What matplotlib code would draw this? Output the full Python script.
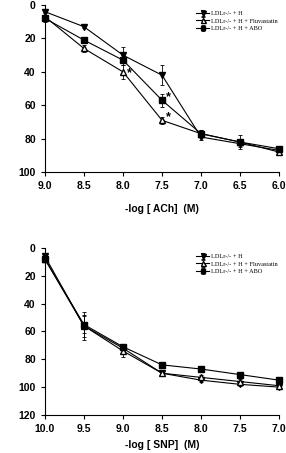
import matplotlib
matplotlib.use("Agg")
import matplotlib.pyplot as plt

# ACh panel
ach_x = [9.0, 8.5, 8.0, 7.5, 7.0, 6.5, 6.0]
ach_h = [4, 13, 30, 42, 79, 83, 87]
ach_h_err = [1, 1, 5, 6, 2, 2, 1]
ach_fluva = [7, 26, 40, 69, 77, 82, 88]
ach_fluva_err = [1, 2, 4, 2, 2, 2, 1]
ach_abo = [8, 21, 33, 57, 77, 82, 86]
ach_abo_err = [2, 1, 3, 4, 2, 4, 1]

# SNP panel
snp_x = [10.0, 9.5, 9.0, 8.5, 8.0, 7.5, 7.0]
snp_h = [6, 56, 72, 90, 95, 98, 100]
snp_h_err = [2, 10, 2, 2, 1, 1, 1]
snp_fluva = [8, 56, 74, 90, 93, 96, 99]
snp_fluva_err = [2, 8, 4, 2, 2, 2, 1]
snp_abo = [8, 55, 71, 84, 87, 91, 95]
snp_abo_err = [2, 6, 2, 2, 2, 2, 1]

labels = ["LDLr-/- + H", "LDLr-/- + H + Fluvastatin", "LDLr-/- + H + ABO"]

plt.rcParams['font.family'] = ['Liberation Sans', 'DejaVu Sans']

fig = plt.figure(figsize=(2.86, 4.53), dpi=100)
ax1 = fig.add_axes([0.157, 0.620, 0.819, 0.369])
ax2 = fig.add_axes([0.157, 0.084, 0.819, 0.3685])


def draw(ax, x, h, he, f, fe, a, ae):
    kw = dict(color='black', lw=0.8, capsize=1.5, elinewidth=0.6, capthick=0.6,
              markersize=4.5, clip_on=False, zorder=3)
    ax.errorbar(x, h, yerr=he, marker='v', mfc='black', label=labels[0], **kw)
    ax.errorbar(x, f, yerr=fe, marker='^', mfc='white', label=labels[1], **kw)
    ax.errorbar(x, a, yerr=ae, marker='s', mfc='black', label=labels[2],
                **dict(kw, markersize=4))
    for s in ['top', 'right']:
        ax.spines[s].set_visible(False)
    for s in ['left', 'bottom']:
        ax.spines[s].set_linewidth(0.8)
    ax.tick_params(direction='out', length=3, width=0.8, labelsize=7.5)
    for t in ax.get_xticklabels() + ax.get_yticklabels():
        t.set_fontweight('bold')
    leg = ax.legend(loc='upper right', bbox_to_anchor=(1.02, 1.0), frameon=False,
                    prop={'family': 'Liberation Serif', 'size': 4.5},
                    handlelength=2.0, handletextpad=0.4, labelspacing=0.35,
                    markerscale=0.8)
    return leg


ax1.set_xlim(9.0, 6.0)
ax1.set_ylim(100, 0)
ax1.set_xticks(ach_x)
ax1.set_xticklabels(["9.0", "8.5", "8.0", "7.5", "7.0", "6.5", "6.0"])
ax1.set_yticks([0, 20, 40, 60, 80, 100])
draw(ax1, ach_x, ach_h, ach_h_err, ach_fluva, ach_fluva_err, ach_abo, ach_abo_err)
ax1.set_xlabel("-log [ ACh]  (M)", fontsize=7.5, fontweight='bold', labelpad=9)
ax1.text(7.95, 41, "*", fontsize=9, fontweight='bold', va='center')
ax1.text(7.45, 55, "*", fontsize=9, fontweight='bold', va='center')
ax1.text(7.45, 67, "*", fontsize=9, fontweight='bold', va='center')

ax2.set_xlim(10.0, 7.0)
ax2.set_ylim(120, 0)
ax2.set_xticks(snp_x)
ax2.set_xticklabels(["10.0", "9.5", "9.0", "8.5", "8.0", "7.5", "7.0"])
ax2.set_yticks([0, 20, 40, 60, 80, 100, 120])
draw(ax2, snp_x, snp_h, snp_h_err, snp_fluva, snp_fluva_err, snp_abo, snp_abo_err)
ax2.set_xlabel("-log [ SNP]  (M)", fontsize=7.5, fontweight='bold', labelpad=4)

fig.savefig("out.png", dpi=100)
